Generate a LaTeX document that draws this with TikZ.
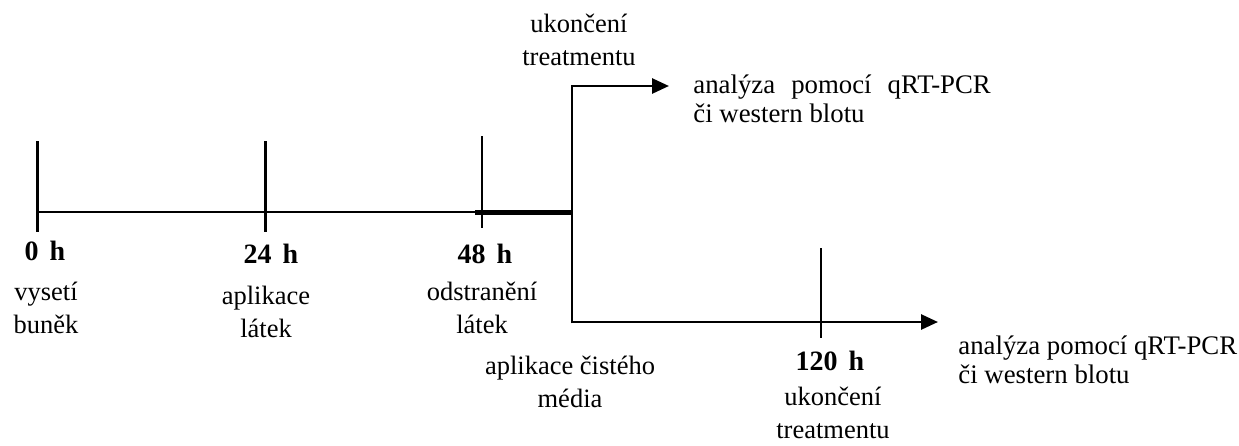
\documentclass[tikz,border=0pt]{standalone}
\usepackage{fontspec}
\setmainfont{Liberation Serif}
\usetikzlibrary{arrows.meta}
\begin{document}
\begin{tikzpicture}[x=1pt,y=-1pt,line width=2.8pt,
  txt/.style={font=\fontsize{26.5}{32.5}\selectfont,align=center,inner sep=0pt,anchor=base},
  hrs/.style={font=\fontsize{28}{32}\selectfont\bfseries,inner sep=0pt,anchor=base},
  res/.style={font=\fontsize{26.8}{28.5}\selectfont,align=left,inner sep=0pt,anchor=base west},
  tip/.style={-{Triangle[length=17pt,width=15pt]}}]
\useasboundingbox (0,0) rectangle (1239,445);

\coordinate (s) at (37,212);
\coordinate (m) at (475,212);
\coordinate (b) at (572,212);
\coordinate (up) at (572,86);
\coordinate (dn) at (572,322);
\coordinate (e1) at (669,86);
\coordinate (e2) at (938,322);

\coordinate (t0a) at (37.5,141);
\coordinate (t0b) at (37.5,232);
\coordinate (t24a) at (265.5,141);
\coordinate (t24b) at (265.5,232);
\coordinate (t48a) at (482,136);
\coordinate (t48b) at (482,228);
\coordinate (t120a) at (821,248);
\coordinate (t120b) at (821,338);

% timeline
\draw (s) -- (b);
\draw[line width=5pt] (m) -- (b);
\draw (t0a) -- (t0b);
\draw (t24a) -- (t24b);
\draw (t48a) -- (t48b);
\draw (t120a) -- (t120b);

% branches
\draw[tip] ([yshift=-1.4pt]dn) -- (up) -- (e1);
\draw[tip] (dn) -- (e2);

\node[hrs] (h0) at (45,260) {0\hspace{11pt}h};
\node[hrs] (h24) at (271,263) {24\hspace{11pt}h};
\node[hrs] (h48) at (485,263) {48\hspace{11pt}h};
\node[hrs] (h120) at (830,370) {120\hspace{11pt}h};

% last-line baselines
\node[txt] (l0) at (46,333) {vysetí\\buněk};
\node[txt] (l24) at (266,337) {aplikace\\látek};
\node[txt] (l48) at (482,333) {odstranění\\látek};
\node[txt] (lmed) at (570,407) {aplikace čistého\\média};
\node[txt] (l120) at (833,438) {ukončení\\treatmentu};
\node[txt] (lend) at (579,65) {ukončení\\treatmentu};

\node[res] (r1) at (692,122) {analýza\hspace{16pt}pomocí\hspace{16pt}qRT-PCR\\či western blotu};
\node[res] (r2) at (957,383) {analýza pomocí qRT-PCR\\či western blotu};
\end{tikzpicture}
\end{document}
